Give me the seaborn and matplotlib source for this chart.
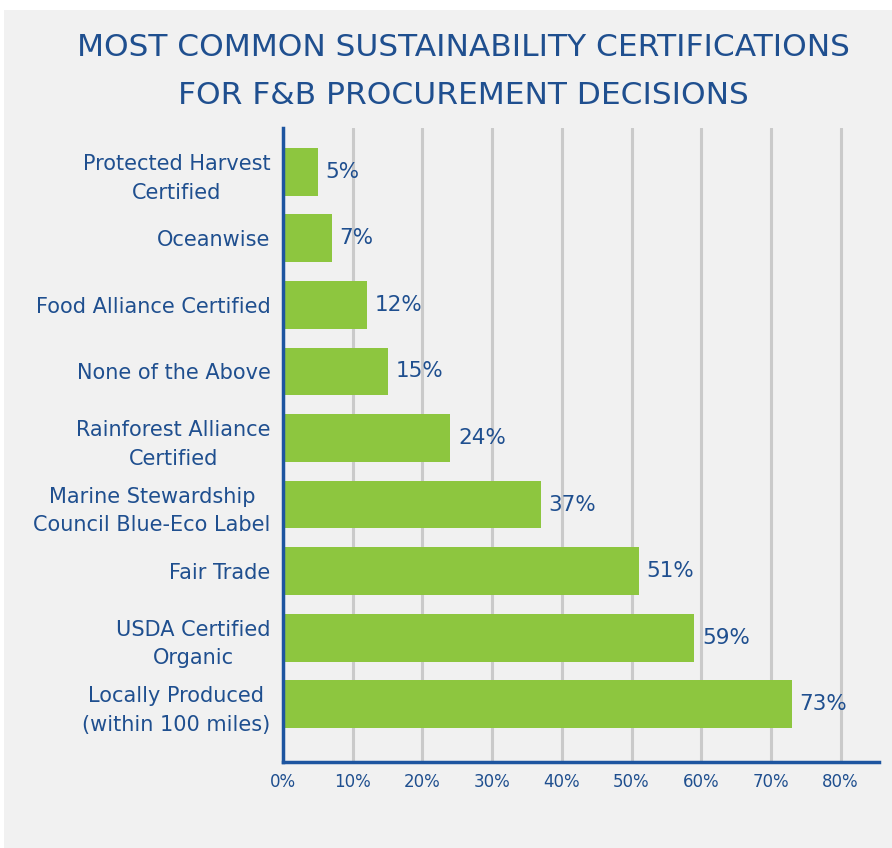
import matplotlib
matplotlib.use("Agg")
import matplotlib.pyplot as plt
import seaborn as sns
import pandas as pd
from matplotlib.patches import Rectangle

# Survey results: share of respondents using each certification
categories = [
    "Protected Harvest\nCertified",
    "Oceanwise",
    "Food Alliance Certified",
    "None of the Above",
    "Rainforest Alliance\nCertified",
    "Marine Stewardship\nCouncil Blue-Eco Label",
    "Fair Trade",
    "USDA Certified\nOrganic",
    "Locally Produced\n(within 100 miles)",
]
values = [5, 7, 12, 15, 24, 37, 51, 59, 73]
tick_values = [0, 10, 20, 30, 40, 50, 60, 70, 80]
tick_labels = ["0%", "10%", "20%", "30%", "40%", "50%", "60%", "70%", "80%"]
title_lines = ["MOST COMMON SUSTAINABILITY CERTIFICATIONS",
               "FOR F&B PROCUREMENT DECISIONS"]

BLUE_TEXT = "#1f4f8f"
BLUE_AXIS = "#1d55a0"
GREEN = "#8dc63f"
GRID = "#cacaca"
PANEL = "#f1f1f1"

sns.set_theme(style="white")
plt.rcParams["font.family"] = ["DejaVu Sans"]

W, H, DPI = 892, 848, 100
fig = plt.figure(figsize=(W / DPI, H / DPI), dpi=DPI, facecolor="white")

# light grey panel behind everything
fig.patches.append(Rectangle((4 / W, 0), 1 - 4 / W, 1 - 10 / H,
                             transform=fig.transFigure, facecolor=PANEL,
                             edgecolor="none", zorder=-10))

left, right, top, bottom = 283, 879, 128, 762
ax = fig.add_axes([left / W, 1 - bottom / H, (right - left) / W, (bottom - top) / H])
ax.set_facecolor("none")

df = pd.DataFrame({"category": categories, "value": values})
sns.barplot(data=df, x="value", y="category", orient="h", color=GREEN,
            saturation=1, width=0.72, linewidth=0, ax=ax, zorder=3)

ax.set_xlim(0, 85.5)
ax.set_ylim(8.87, -0.66)

ax.set_xticks(tick_values)
ax.set_xticklabels(tick_labels, fontsize=12, color=BLUE_TEXT)
ax.tick_params(axis="x", length=0, pad=8)
ax.tick_params(axis="y", length=0, pad=9)
for lab in ax.get_yticklabels():
    lab.set_fontsize(15)
    lab.set_color(BLUE_TEXT)
    lab.set_multialignment("center")
    lab.set_linespacing(1.55)
ax.set_xlabel("")
ax.set_ylabel("")

ax.grid(axis="x", color=GRID, linewidth=2.2, zorder=0)
ax.grid(axis="y", visible=False)

for side in ["top", "right"]:
    ax.spines[side].set_visible(False)
for side in ["left", "bottom"]:
    ax.spines[side].set_color(BLUE_AXIS)
    ax.spines[side].set_linewidth(2.5)
    ax.spines[side].set_zorder(4)

# value labels next to each bar
for i, v in enumerate(values):
    ax.text(v + 1.1, i, f"{v}%", va="center", ha="left",
            fontsize=15.5, color=BLUE_TEXT, zorder=5)

for k, line in enumerate(title_lines):
    fig.text(463 / W, 1 - (47 + 48 * k) / H, line, ha="center", va="center",
             fontsize=22.5, color=BLUE_TEXT)

fig.savefig("out.png", dpi=DPI, facecolor="white")
